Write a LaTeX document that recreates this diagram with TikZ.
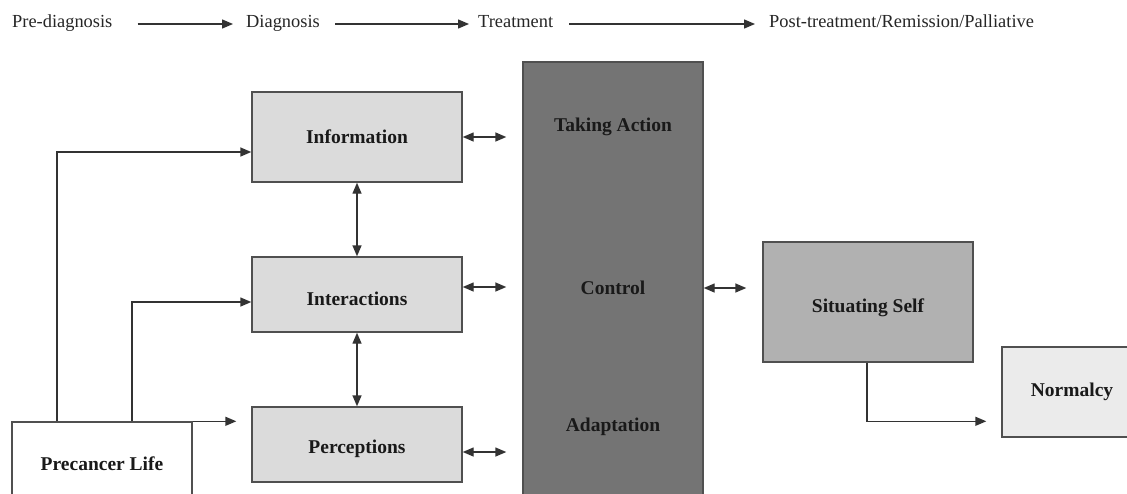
\documentclass[tikz,border=0pt]{standalone}
\usepackage{fontspec}
\setmainfont{Liberation Serif}
\usetikzlibrary{arrows.meta}
\definecolor{bordergray}{HTML}{505050}
\definecolor{linegray}{HTML}{333333}
\definecolor{lightbox}{HTML}{DBDBDB}
\definecolor{darkbox}{HTML}{747474}
\definecolor{midbox}{HTML}{B1B1B1}
\definecolor{paleBox}{HTML}{EBEBEB}
\tikzset{
  box/.style={draw=bordergray, line width=1.4pt, inner sep=0pt, rectangle,
    font=\bfseries\fontsize{19.5}{23}\selectfont, text=black!90},
  lbl/.style={inner sep=0pt, font=\bfseries\fontsize{19.5}{23}\selectfont, text=black!90},
  tl/.style={inner sep=0pt, font=\fontsize{18.4}{22}\selectfont, text=black!85},
  tip/.tip={Triangle[length=11pt,width=9pt]},
  arr/.style={draw=linegray, line width=1.4pt, -tip},
  dbl/.style={draw=linegray, line width=1.4pt, tip-tip},
}
\begin{document}
\begin{tikzpicture}[x=1pt,y=-1pt]
\useasboundingbox (0,0) rectangle (1127,493);
\clip (0,0) rectangle (1127,493);
\fill[white] (0,0) rectangle (1127,493);

% timeline
\node[tl, anchor=base west] (t1) at (12,27) {Pre-diagnosis};
\node[tl, anchor=base west] (t2) at (246,27) {Diagnosis};
\node[tl, anchor=base west] (t3) at (478,27) {Treatment};
\node[tl, anchor=base west] (t4) at (769,27) {Post-treatment/Remission/Palliative};
\draw[arr] ([shift={(25pt,3pt)}]t1.base east) -- ([shift={(-13pt,3pt)}]t2.base west);
\draw[arr] ([shift={(15pt,3pt)}]t2.base east) -- ([shift={(-9pt,3pt)}]t3.base west);
\draw[arr] ([shift={(16pt,3pt)}]t3.base east) -- ([shift={(-14pt,3pt)}]t4.base west);

% boxes
\node[box, fill=lightbox, minimum width=210pt, minimum height=90pt] (info) at (357,137) {Information};
\node[box, fill=lightbox, minimum width=210pt, minimum height=75pt] (inter) at (357,294.5) {};
\node[lbl] at (357,299) {Interactions};
\node[box, fill=lightbox, minimum width=210pt, minimum height=75pt] (perc) at (357,444.5) {};
\node[lbl] at (357,449) {Perceptions};
\node[box, fill=white, minimum width=180pt, minimum height=84pt] (pre) at (102,464) {Precancer Life};
\node[box, fill=darkbox, minimum width=180pt, minimum height=460pt] (big) at (613,292) {};
\node[lbl] (take) at (613,127) {Taking Action};
\node[lbl] (ctrl) at (613,288) {Control};
\node[lbl] (adapt) at (613,427) {Adaptation};
\node[box, fill=midbox, minimum width=210pt, minimum height=120pt] (self) at (868,302) {};
\node[lbl] at (868,308) {Situating Self};
\node[box, fill=paleBox, minimum width=140pt, minimum height=90pt] (norm) at (1072,392) {Normalcy};

% connectors to big box
\draw[dbl, shorten >=16pt] (info.east) -- (info.east -| big.west);
\draw[dbl, shorten >=16pt] ([yshift=7.5pt]inter.east) -- ([yshift=7.5pt]inter.east -| big.west);
\draw[dbl, shorten >=16pt] ([yshift=-7.5pt]perc.east) -- ([yshift=-7.5pt]perc.east -| big.west);
\draw[dbl, shorten >=16pt] (big.east |- ctrl) -- (self.west |- ctrl);

% vertical links
\draw[dbl] (info.south) -- (inter.north);
\draw[dbl] (inter.south) -- (perc.north);

% feeders from precancer life
\draw[arr] ([xshift=-45pt]pre.north) |- ([yshift=-15pt]info.west);
\draw[arr] ([xshift=30pt]pre.north) |- ([yshift=-7.5pt]inter.west);
\draw[arr] (pre.north east) -- ([xshift=-15pt]perc.west |- pre.north east);

% situating self to normalcy
\draw[arr, shorten >=15pt] ([xshift=-1pt]self.south) |- (norm.west |- pre.north);
\end{tikzpicture}
\end{document}
